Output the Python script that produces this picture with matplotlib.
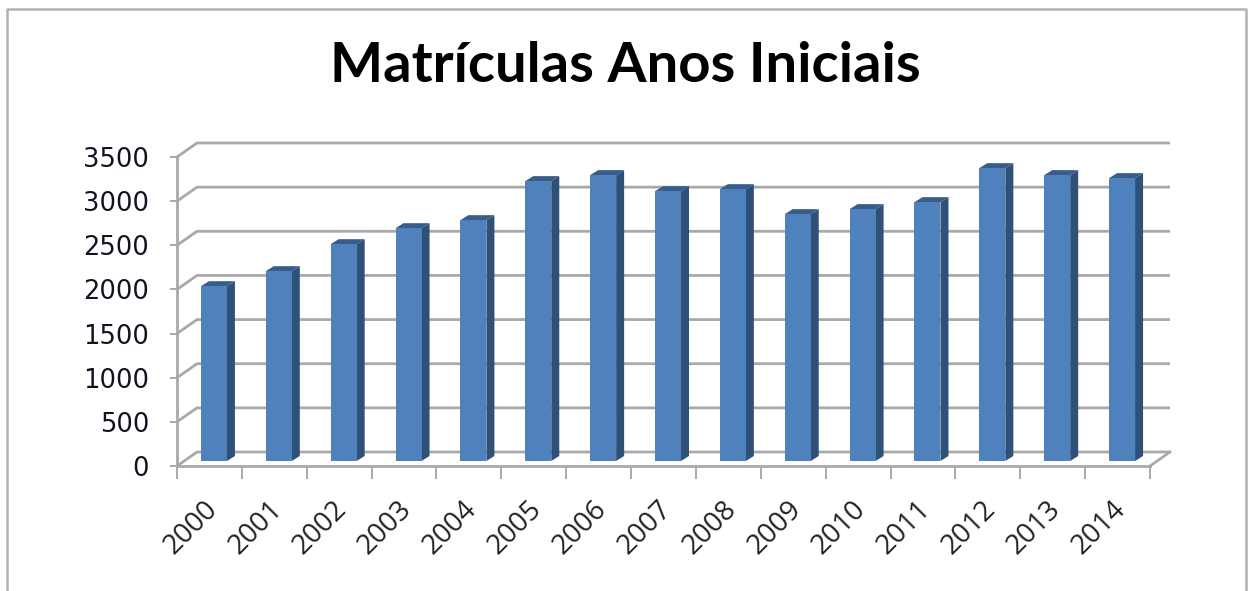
import matplotlib
matplotlib.use("Agg")
import matplotlib.pyplot as plt
from matplotlib.patches import Polygon
from matplotlib.transforms import ScaledTranslation

years = ['2000', '2001', '2002', '2003', '2004', '2005', '2006', '2007',
         '2008', '2009', '2010', '2011', '2012', '2013', '2014']
matriculas = [1980, 2150, 2456, 2637, 2728, 3170, 3238, 3056,
              3079, 2796, 2853, 2932, 3317, 3238, 3204]
yticks = [0, 500, 1000, 1500, 2000, 2500, 3000, 3500]

W, H = 1255, 591
GRID = '#a9a9a9'

fig = plt.figure(figsize=(W / 100, H / 100), dpi=100)

# plot box is the front of the fake 3d box, in pixels
left, right, top, bottom = 177, 1150, 157, 466
ax = fig.add_axes([left / W, 1 - bottom / H, (right - left) / W, (bottom - top) / H])
ax.set_xlim(0, len(years))
ax.set_ylim(0, 3500)

# pixels to data units
px = len(years) / (right - left)
py = 3500 / (bottom - top)

# back wall and left wall
wall_x, wall_y = 20 * px, 14 * py
for v in yticks:
    ax.plot([0, wall_x, len(years) + wall_x], [v, v + wall_y, v + wall_y],
            color=GRID, lw=2, clip_on=False, zorder=1, solid_capstyle='butt')
ax.plot([len(years), len(years) + wall_x], [0, wall_y], color=GRID, lw=2,
        clip_on=False, zorder=1)

# bars: front face from ax.bar, side and top as polygons
bar_w = 26 * px
dx, dy = 8 * px, 5 * py
shift_x, base = 4.5 * px, 5 * py
for i, v in enumerate(matriculas):
    x0 = i + 0.5 + shift_x - bar_w / 2
    x1 = x0 + bar_w
    ytop = base + v
    ax.add_patch(Polygon([(x1, base), (x1 + dx, base + dy), (x1 + dx, ytop + dy), (x1, ytop)],
                         closed=True, fc='#2f5077', ec='none', zorder=3, clip_on=False))
    ax.add_patch(Polygon([(x0, ytop), (x0 + dx, ytop + dy), (x1 + dx, ytop + dy), (x1, ytop)],
                         closed=True, fc='#385d8a', ec='none', zorder=3, clip_on=False))
    ax.bar(x0, v, width=bar_w, bottom=base, align='edge', color='#4f81bd', zorder=4, clip_on=False)

for s in ['top', 'right']:
    ax.spines[s].set_visible(False)
for s in ['left', 'bottom']:
    ax.spines[s].set_color(GRID)
    ax.spines[s].set_linewidth(2)

ax.set_yticks(yticks)
ax.set_yticklabels([str(v) for v in yticks], family='DejaVu Sans', fontsize=18.5, color='#111122',
                   va='center')
ax.tick_params(axis='y', length=5, width=1.4, color=GRID, pad=15)
# y labels sit a little below their ticks in the original
down = ScaledTranslation(0, -3 / 100, fig.dpi_scale_trans)
for lab in ax.get_yticklabels():
    lab.set_transform(lab.get_transform() + down)

ax.set_xticks(range(len(years) + 1))
ax.set_xticklabels([])
ax.tick_params(axis='x', which='major', length=9, width=1.4, color=GRID)
ax.set_xticks([i + 0.5 for i in range(len(years))], minor=True)
ax.set_xticklabels(years, minor=True, rotation=45, ha='right', va='top', rotation_mode='anchor',
                   family='Open Sans', fontsize=20, color='#222222')
ax.tick_params(axis='x', which='minor', length=0, pad=21)
shift = ScaledTranslation(-6 / 100, 0, fig.dpi_scale_trans)
for lab in ax.get_xticklabels(minor=True):
    lab.set_transform(lab.get_transform() + shift)

fig.text(625 / W, 1 - 66 / H, 'Matrículas Anos Iniciais', ha='center', va='center',
         family='Lato', fontweight='bold', fontsize=40.5, color='black')

# chart frame, open at the bottom
frame = '#b3b3b3'
fig.add_artist(plt.Line2D([7 / W, 7 / W, 1246 / W, 1246 / W], [0, 1 - 9 / H, 1 - 9 / H, 0],
                          color=frame, lw=1.8))

fig.savefig('out.png', dpi=100)
